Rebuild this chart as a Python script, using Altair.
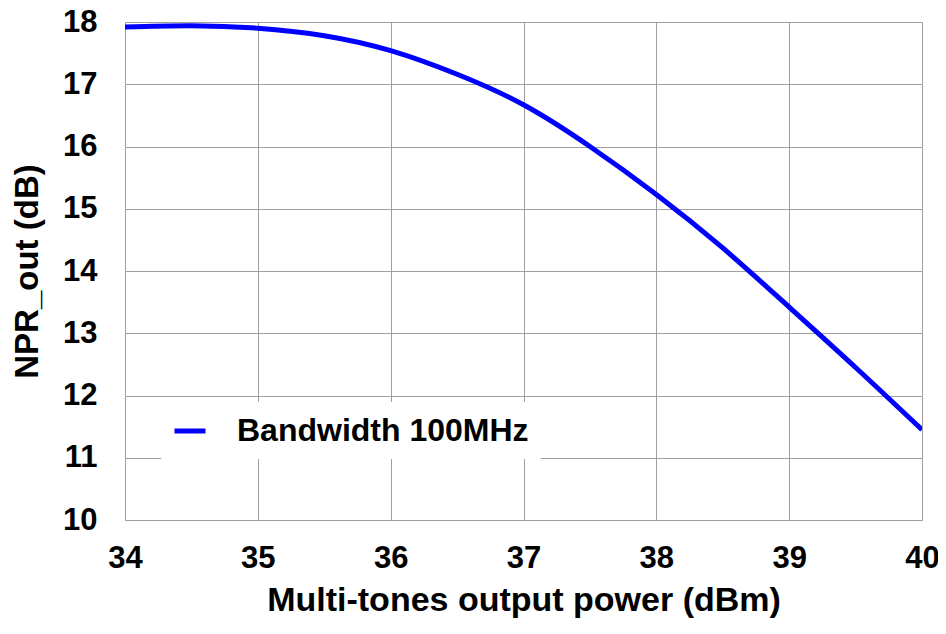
import altair as alt
import pandas as pd

power_dbm = [34.0, 34.5, 35.0, 35.5, 36.0, 36.5, 37.0, 37.5, 38.0, 38.5, 39.0, 39.5, 40.0]
npr_out_db = [17.92, 17.94, 17.90, 17.78, 17.54, 17.16, 16.67, 16.0, 15.23, 14.37, 13.42, 12.45, 11.45]
series_name = "Bandwidth 100MHz"

df = pd.DataFrame({"power": power_dbm, "npr": npr_out_db, "series": [series_name] * len(power_dbm)})

FONT = "Liberation Sans"

line = alt.Chart(df).mark_line(strokeWidth=5, interpolate="natural", clip=True).encode(
    x=alt.X("power:Q", scale=alt.Scale(domain=[34, 40], nice=False, zero=False),
            axis=alt.Axis(values=[34, 35, 36, 37, 38, 39, 40], title="Multi-tones output power (dBm)",
                          format="d", labelPadding=23, titlePadding=10, tickSize=0,
                          labelFlush=False, titleFontSize=34)),
    y=alt.Y("npr:Q", scale=alt.Scale(domain=[10, 18], nice=False, zero=False),
            axis=alt.Axis(values=list(range(10, 19)), title="NPR_out (dB)", format="d",
                          labelPadding=28, titlePadding=18, tickSize=0,
                          labelFlush=False, titleFontSize=33)),
    color=alt.Color("series:N", scale=alt.Scale(range=["#0000ff"]),
                    legend=alt.Legend(title=None, orient="none", legendX=36, legendY=380,
                                      symbolType="stroke", symbolSize=961, symbolStrokeWidth=5,
                                      labelFontSize=32, labelFont=FONT, labelFontWeight="bold",
                                      labelColor="#000000", labelOffset=29, padding=11,
                                      labelLimit=0, fillColor="white", strokeColor="white")),
)

chart = line.properties(
    width=797, height=498,
    autosize=alt.AutoSizeParams(type="none"),
    padding={"left": 117, "top": 14, "right": 16, "bottom": 104},
).configure_view(stroke="#a0a0a0", strokeWidth=1).configure_axis(
    grid=True, gridColor="#a0a0a0", gridWidth=1, gridOpacity=1, domain=False,
    labelFont=FONT, labelFontSize=31, labelFontWeight="bold", labelColor="#000000",
    titleFont=FONT, titleFontWeight="bold", titleColor="#000000",
)

chart.save("out.html", embed_options={"renderer": "svg", "actions": False})
